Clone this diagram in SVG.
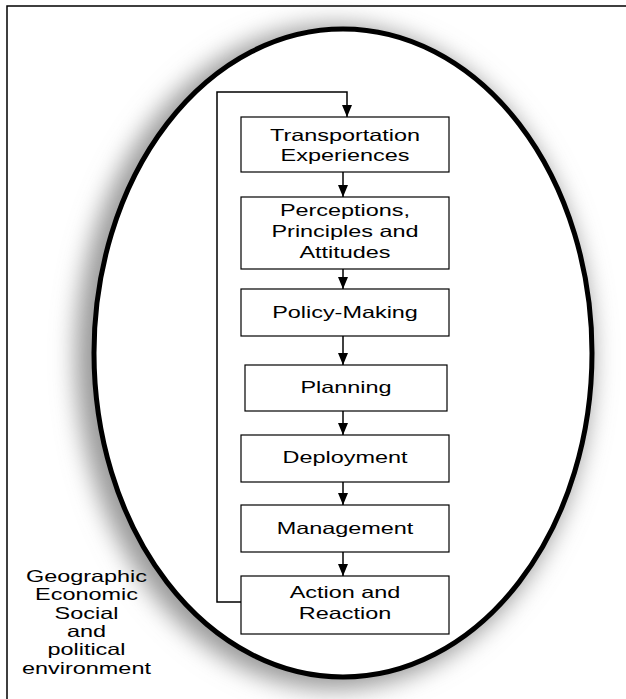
<svg xmlns="http://www.w3.org/2000/svg" width="626" height="699" viewBox="0 0 626 699">
<defs>
<style>
.box{fill:#fff;stroke:#000;stroke-width:1.2}
.t{font-family:"Liberation Sans",Arial,sans-serif;font-size:16.5px;fill:#000;text-anchor:middle}
.c{fill:none;stroke:#000;stroke-width:1.5}
</style>
<marker id="ah" viewBox="0 0 12 10" refX="12" refY="5" markerWidth="12" markerHeight="10" markerUnits="userSpaceOnUse" orient="auto">
<path d="M0,0 L12,5 L0,10 Z" fill="#000"/>
</marker>
<filter id="blur" x="-20%" y="-20%" width="140%" height="140%">
<feGaussianBlur stdDeviation="12"/>
</filter>
</defs>
<rect x="0" y="0" width="626" height="699" fill="#fff"/>
<rect x="7" y="6" width="640" height="720" fill="none" stroke="#000" stroke-width="1.5"/>
<g id="environment">
<ellipse cx="334" cy="357" rx="258" ry="332" fill="#999" filter="url(#blur)"/>
<ellipse cx="343" cy="353" rx="249" ry="324" fill="#fff" stroke="#000" stroke-width="5"/>
<text class="t" transform="translate(86.5,582) scale(1.42,1)">Geographic</text>
<text class="t" transform="translate(86.5,600.3) scale(1.42,1)">Economic</text>
<text class="t" transform="translate(86.5,618.6) scale(1.42,1)">Social</text>
<text class="t" transform="translate(86.5,636.9) scale(1.42,1)">and</text>
<text class="t" transform="translate(86.5,655.2) scale(1.42,1)">political</text>
<text class="t" transform="translate(86.5,673.5) scale(1.42,1)">environment</text>
</g>
<g id="connectors">
<path class="c" d="M241,602 H217 V92 H347 V117" marker-end="url(#ah)"/>
<path class="c" d="M343,172 V197" marker-end="url(#ah)"/>
<path class="c" d="M343,269 V289" marker-end="url(#ah)"/>
<path class="c" d="M343,336 V365" marker-end="url(#ah)"/>
<path class="c" d="M343,411 V435" marker-end="url(#ah)"/>
<path class="c" d="M343,482 V505" marker-end="url(#ah)"/>
<path class="c" d="M343,552 V576" marker-end="url(#ah)"/>
</g>
<g id="transportation">
<rect class="box" x="241" y="117" width="208" height="55"/>
<text class="t" transform="translate(345,141) scale(1.42,1)">Transportation</text>
<text class="t" transform="translate(345,161) scale(1.42,1)">Experiences</text>
</g>
<g id="perceptions">
<rect class="box" x="241" y="197" width="208" height="72"/>
<text class="t" transform="translate(345,215.5) scale(1.42,1)">Perceptions,</text>
<text class="t" transform="translate(345,236.5) scale(1.42,1)">Principles and</text>
<text class="t" transform="translate(345,257.5) scale(1.42,1)">Attitudes</text>
</g>
<g id="policy">
<rect class="box" x="241" y="289" width="208" height="47"/>
<text class="t" transform="translate(345,318) scale(1.42,1)">Policy-Making</text>
</g>
<g id="planning">
<rect class="box" x="245" y="365" width="202" height="46"/>
<text class="t" transform="translate(346,393) scale(1.42,1)">Planning</text>
</g>
<g id="deployment">
<rect class="box" x="241" y="435" width="208" height="47"/>
<text class="t" transform="translate(345,463) scale(1.42,1)">Deployment</text>
</g>
<g id="management">
<rect class="box" x="241" y="505" width="208" height="47"/>
<text class="t" transform="translate(345,534) scale(1.42,1)">Management</text>
</g>
<g id="action">
<rect class="box" x="241" y="576" width="208" height="58"/>
<text class="t" transform="translate(345,598) scale(1.42,1)">Action and</text>
<text class="t" transform="translate(345,619) scale(1.42,1)">Reaction</text>
</g>
</svg>
